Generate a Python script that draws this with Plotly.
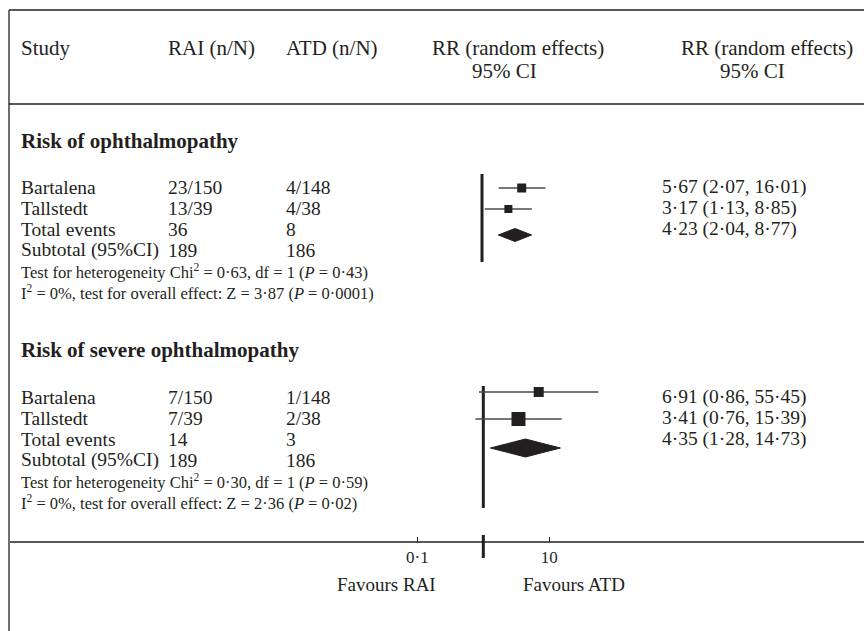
import plotly.graph_objects as go

# ---------------- data ----------------
header_cols = ["Study", "RAI (n/N)", "ATD (n/N)"]
rr_header = ["RR (random effects)", "95% CI"]

sections = ["Risk of ophthalmopathy", "Risk of severe ophthalmopathy"]
studies = ["Bartalena", "Tallstedt"]

rai_1 = ["23/150", "13/39"]
atd_1 = ["4/148", "4/38"]
rr_1 = [5.67, 3.17]
lo_1 = [2.07, 1.13]
hi_1 = [16.01, 8.85]
pooled_1 = [4.23, 2.04, 8.77]
events_1 = ["36", "8"]
subtotal_1 = ["189", "186"]
het_1 = "Test for heterogeneity Chi<sup>2</sup> = 0·63, df = 1 (<i>P</i> = 0·43)"
overall_1 = "I<sup>2</sup> = 0%, test for overall effect: Z = 3·87 (<i>P</i> = 0·0001)"

rai_2 = ["7/150", "7/39"]
atd_2 = ["1/148", "2/38"]
rr_2 = [6.91, 3.41]
lo_2 = [0.86, 0.76]
hi_2 = [55.45, 15.39]
pooled_2 = [4.35, 1.28, 14.73]
events_2 = ["14", "3"]
subtotal_2 = ["189", "186"]
het_2 = "Test for heterogeneity Chi<sup>2</sup> = 0·30, df = 1 (<i>P</i> = 0·59)"
overall_2 = "I<sup>2</sup> = 0%, test for overall effect: Z = 2·36 (<i>P</i> = 0·02)"

tick_vals = [0.1, 10]
tick_text = ["0·1", "10"]
favours = ["Favours RAI", "Favours ATD"]

# ---------------- style / layout constants ----------------
W, H = 864, 631
INK = "#231f20"
LINE = "#4a4a4a"
FONT = "Liberation Serif"
FS = 19.5
FS_HEAD = 21
FS_SEC = 21
FS_STAT = 16.5

def fmt(v):
    return f"{v:.2f}".replace(".", "·")

fig = go.Figure()
ann = []

def text(x, y, s, size=FS, bold=False, anchor="left"):
    if bold:
        s = f"<b>{s}</b>"
    ann.append(dict(x=x, y=y, xref="x", yref="y", text=s, showarrow=False,
                    xanchor=anchor, yanchor="middle",
                    font=dict(family=FONT, size=size, color=INK)))

# header
text(19, 48, header_cols[0], size=FS_HEAD)
text(166, 48, header_cols[1], size=FS_HEAD)
text(284, 48, header_cols[2], size=FS_HEAD)
text(430, 48, rr_header[0], size=FS_HEAD)
text(470, 71, rr_header[1], size=FS_HEAD)
text(679, 48, rr_header[0], size=FS_HEAD)
text(718, 71, rr_header[1], size=FS_HEAD)

COLS = [19, 166, 284]
RESX = 660
STEP = 21

groups = [
    dict(sec=sections[0], sec_y=141, row0=187, axis="x3",
         rai=rai_1, atd=atd_1, rr=rr_1, lo=lo_1, hi=hi_1, pooled=pooled_1,
         events=events_1, subtotal=subtotal_1, het=het_1, overall=overall_1,
         mark_y=[188, 209], dia_y=235, dia_h=6.5, sq=[9, 8],
         vline=(174, 262)),
    dict(sec=sections[1], sec_y=350, row0=397, axis="x2",
         rai=rai_2, atd=atd_2, rr=rr_2, lo=lo_2, hi=hi_2, pooled=pooled_2,
         events=events_2, subtotal=subtotal_2, het=het_2, overall=overall_2,
         mark_y=[392, 419], dia_y=448, dia_h=9, sq=[10, 14],
         vline=(386, 508)),
]

for g in groups:
    text(COLS[0], g["sec_y"], g["sec"], size=FS_SEC, bold=True)
    r = g["row0"]
    for i, s in enumerate(studies):
        y = r + STEP * i
        text(COLS[0], y, s)
        text(COLS[1], y, g["rai"][i])
        text(COLS[2], y, g["atd"][i])
        text(RESX, y, f"{fmt(g['rr'][i])} ({fmt(g['lo'][i])}, {fmt(g['hi'][i])})")
    y = r + STEP * 2
    text(COLS[0], y, "Total events")
    text(COLS[1], y, g["events"][0])
    text(COLS[2], y, g["events"][1])
    p = g["pooled"]
    text(RESX, y, f"{fmt(p[0])} ({fmt(p[1])}, {fmt(p[2])})")
    y = r + STEP * 3
    text(COLS[0], y, "Subtotal (95%CI)")
    text(COLS[1], y, g["subtotal"][0])
    text(COLS[2], y, g["subtotal"][1])
    text(COLS[0], r + STEP * 4, g["het"], size=FS_STAT)
    text(COLS[0], r + STEP * 5, g["overall"], size=FS_STAT)

    ax = g["axis"]
    # no-effect line
    fig.add_trace(go.Scatter(x=[1, 1], y=list(g["vline"]), mode="lines",
                             line=dict(color=INK, width=3), xaxis=ax, yaxis="y",
                             hoverinfo="skip", showlegend=False))
    # CI lines + squares
    for i in range(len(studies)):
        fig.add_trace(go.Scatter(x=[g["lo"][i], g["hi"][i]], y=[g["mark_y"][i]] * 2,
                                 mode="lines", line=dict(color=LINE, width=1.7),
                                 xaxis=ax, yaxis="y", showlegend=False))
        fig.add_trace(go.Scatter(x=[g["rr"][i]], y=[g["mark_y"][i]], mode="markers",
                                 marker=dict(symbol="square", size=g["sq"][i], color=INK,
                                             line=dict(width=0)),
                                 xaxis=ax, yaxis="y", showlegend=False))
    # pooled diamond
    yd, hd = g["dia_y"], g["dia_h"]
    fig.add_trace(go.Scatter(x=[p[1], p[0], p[2], p[0], p[1]],
                             y=[yd, yd - hd, yd, yd + hd, yd],
                             mode="lines", fill="toself", fillcolor=INK,
                             line=dict(color=INK, width=1),
                             xaxis=ax, yaxis="y", showlegend=False))

# thick tick at RR = 1 on the axis
fig.add_trace(go.Scatter(x=[1, 1], y=[535, 558], mode="lines",
                         line=dict(color=INK, width=3), xaxis="x2", yaxis="y",
                         showlegend=False))

text(386, 584, favours[0], size=19, anchor="center")
text(574, 584, favours[1], size=19, anchor="center")

AXIS_Y = 542
# frame lines and the axis line
shapes = [
    dict(type="line", xref="x", yref="y", x0=9, x1=W, y0=10, y1=10,
         line=dict(color=INK, width=1.3)),
    dict(type="line", xref="x", yref="y", x0=9, x1=W, y0=104, y1=104,
         line=dict(color=INK, width=1.3)),
    dict(type="line", xref="x", yref="y", x0=9, x1=9, y0=10, y1=H,
         line=dict(color=INK, width=1.3)),
    dict(type="line", xref="x", yref="y", x0=10, x1=W, y0=AXIS_Y, y1=AXIS_Y,
         line=dict(color=INK, width=1.3)),
]

fig.update_layout(
    width=W, height=H,
    margin=dict(l=0, r=0, t=0, b=0),
    paper_bgcolor="white", plot_bgcolor="white",
    showlegend=False,
    annotations=ann, shapes=shapes,
    xaxis=dict(range=[0, W], domain=[0, 1], visible=False, fixedrange=True),
    yaxis=dict(range=[H, 0], domain=[0, 1], visible=False, fixedrange=True),
    xaxis2=dict(type="log", range=[-7.323, 5.768],
                overlaying="x", anchor="free", position=(H - AXIS_Y) / H,
                showline=False, showgrid=False, zeroline=False,
                tickmode="array", tickvals=tick_vals, ticktext=tick_text,
                ticks="inside", ticklen=5, tickwidth=1, tickcolor=INK,
                ticklabelstandoff=3,
                tickfont=dict(family=FONT, size=17, color=INK)),
    xaxis3=dict(type="log", range=[-9.153, 7.254],
                overlaying="x", anchor="y", visible=False),
)

fig.write_html("out.html", config={"displayModeBar": False},
               post_script="document.body.style.margin='0';")
